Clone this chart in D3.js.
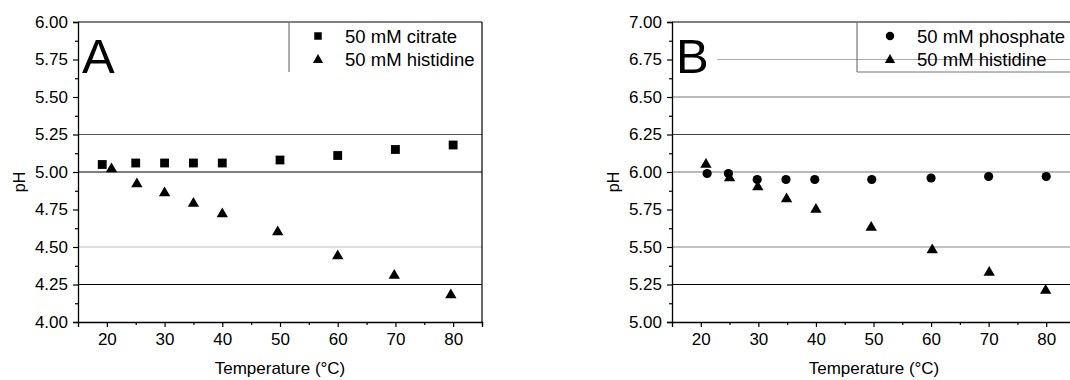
<!DOCTYPE html>
<html><head><meta charset="utf-8">
<script src="https://cdn.jsdelivr.net/npm/d3@7"></script>
<style>
body{margin:0;background:#fff;}
svg text{font-family:"Liberation Sans",Arial,sans-serif;fill:#000;}
svg .tick text{font-size:17px;}
</style></head>
<body><svg id="c" width="1070" height="380"></svg>
<script>
// Panel A data
const tempCitrate = [19.2, 25, 30, 35, 40, 50, 60, 70, 80];
const phCitrate   = [5.05, 5.06, 5.06, 5.06, 5.06, 5.08, 5.11, 5.15, 5.18];
const tempHisA    = [20.8, 25.2, 30, 35, 40, 49.6, 60, 69.8, 79.6];
const phHisA      = [5.02, 4.92, 4.86, 4.79, 4.72, 4.60, 4.44, 4.31, 4.18];
// Panel B data
const tempPhos    = [21.1, 24.8, 29.8, 34.8, 39.8, 49.7, 60, 70, 80];
const phPhos      = [5.99, 5.99, 5.95, 5.95, 5.95, 5.95, 5.96, 5.97, 5.97];
const tempHisB    = [20.9, 25, 29.9, 34.9, 40, 49.6, 60.2, 70.1, 79.9];
const phHisB      = [6.05, 5.96, 5.90, 5.82, 5.75, 5.63, 5.48, 5.33, 5.21];
// Axis ticks
const xTicks  = [20, 30, 40, 50, 60, 70, 80];
const yTicksA = [4.00, 4.25, 4.50, 4.75, 5.00, 5.25, 5.50, 5.75, 6.00];
const yTicksB = [5.00, 5.25, 5.50, 5.75, 6.00, 6.25, 6.50, 6.75, 7.00];
const gridA = [{v:5.25,c:"#555"},{v:5.00,c:"#000"},{v:4.50,c:"#bbb"},{v:4.25,c:"#000"}];
const gridB = [{v:6.75,c:"#aaa",from:45},{v:6.50,c:"#777"},{v:6.25,c:"#444"},{v:6.00,c:"#777"},{v:5.50,c:"#888"},{v:5.25,c:"#000"}];

const svg = d3.select("#c");

function panel(o){
  const g = svg.append("g");
  const x = d3.scaleLinear().domain([15,85]).range([o.left, o.right]);
  const y = d3.scaleLinear().domain(o.yDomain).range([322, 22]);
  o.grid.forEach(gl=>{
    g.append("line").attr("x1", o.left + (gl.from||0)).attr("x2", o.right)
      .attr("y1", y(gl.v)).attr("y2", y(gl.v)).attr("stroke", gl.c).attr("stroke-width",1.2);
  });
  g.append("line").attr("x1",o.left).attr("x2",o.right).attr("y1",22).attr("y2",22).attr("stroke","#000").attr("stroke-width",1.2);
  g.append("line").attr("x1",o.right).attr("x2",o.right).attr("y1",22).attr("y2",322).attr("stroke","#000").attr("stroke-width",1.2);
  g.append("g").attr("transform","translate(0,322)")
    .call(d3.axisBottom(x).tickValues(xTicks).tickSize(5).tickPadding(6).tickFormat(d3.format("d")))
    .attr("font-size",17).attr("font-family","Liberation Sans, Arial, sans-serif");
  g.append("g").attr("transform","translate(0,322)")
    .call(d3.axisBottom(x).tickValues([25,35,45,55,65,75,85]).tickSize(3).tickFormat(""))
    .call(s=>s.select(".domain").remove());
  g.append("g").attr("transform",`translate(${o.left},0)`)
    .call(d3.axisLeft(y).tickValues(o.yTicks).tickSize(5).tickPadding(5).tickFormat(d3.format(".2f")))
    .attr("font-size",17).attr("font-family","Liberation Sans, Arial, sans-serif");
  const minor = o.yTicks.slice(0,-1).map(v=>v+0.125);
  g.append("g").attr("transform",`translate(${o.left},0)`)
    .call(d3.axisLeft(y).tickValues(minor).tickSize(3).tickFormat(""))
    .call(s=>s.select(".domain").remove());
  g.selectAll(".domain").attr("stroke","#000").attr("stroke-width",1.3);
  g.selectAll(".tick line").attr("stroke","#000").attr("stroke-width",1.2);
  g.selectAll(".tick text").attr("font-size",17).attr("fill","#000");
  g.append("text").attr("x",o.left + 202).attr("y",374).attr("text-anchor","middle")
    .style("font-size","17px").text("Temperature (°C)");
  g.append("text").attr("transform",`translate(${o.left-53},182) rotate(-90)`).attr("text-anchor","middle")
    .style("font-size","16px").text("pH");
  g.append("text").attr("x",o.left+4).attr("y",73).style("font-size","49px").text(o.letter);
  o.series.forEach(s=>{
    const pts = s.t.map((t,i)=>[x(t), y(s.p[i])]);
    g.selectAll(null).data(pts).enter().append("path")
      .attr("transform",d=>`translate(${d[0]},${d[1]})`)
      .attr("d", s.sym).attr("fill","#000");
  });
  const lx = o.legendX;
  g.append("line").attr("x1",lx).attr("x2",lx).attr("y1",22).attr("y2",72).attr("stroke","#777").attr("stroke-width",1.2);
  if(o.legendBottom){
    g.append("line").attr("x1",lx).attr("x2",o.right).attr("y1",72).attr("y2",72).attr("stroke","#777").attr("stroke-width",1.2);
  }
  o.series.forEach((s,i)=>{
    const yy = 36 + i*24;
    g.append("path").attr("transform",`translate(${lx+o.symOff},${yy})`).attr("d",s.legSym).attr("fill","#000");
    g.append("text").attr("x",lx+o.textOff).attr("y",43 + i*23).style("font-size","18.5px").text(s.name);
  });
}

const sq = d3.symbol().type(d3.symbolSquare).size(78)();
const tri = d3.symbol().type(d3.symbolTriangle).size(56)();
const circ = d3.symbol().type(d3.symbolCircle).size(66)();
const sqL = d3.symbol().type(d3.symbolSquare).size(56)();
const triL = d3.symbol().type(d3.symbolTriangle).size(46)();
const circL = d3.symbol().type(d3.symbolCircle).size(56)();

panel({left:78,right:482,yDomain:[4,6],yTicks:yTicksA,grid:gridA,letter:"A",
  legendX:289,legendBottom:false,symOff:29,textOff:56,
  series:[{t:tempCitrate,p:phCitrate,sym:sq,legSym:sqL,name:"50 mM citrate"},
          {t:tempHisA,p:phHisA,sym:tri,legSym:triL,name:"50 mM histidine"}]});
panel({left:672,right:1075,yDomain:[5,7],yTicks:yTicksB,grid:gridB,letter:"B",
  legendX:857,legendBottom:true,symOff:33,textOff:60,
  series:[{t:tempPhos,p:phPhos,sym:circ,legSym:circL,name:"50 mM phosphate"},
          {t:tempHisB,p:phHisB,sym:tri,legSym:triL,name:"50 mM histidine"}]});
</script></body></html>
